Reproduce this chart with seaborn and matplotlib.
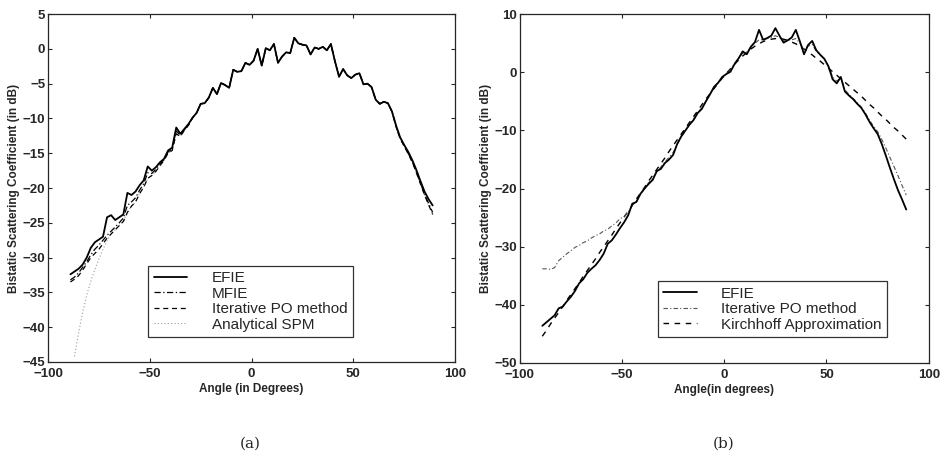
import numpy as np
import pandas as pd
import seaborn as sns
import matplotlib.pyplot as plt

# angle grid (degrees)
angles = np.arange(-89, 90, 2)

# ---- panel (a) ----
efie_a = [-32.4, -32.0, -31.6, -31.0, -30.0, -28.6, -27.8, -27.4, -27.0, -24.2,
          -23.9, -24.6, -24.2, -23.8, -20.7, -21.0, -20.5, -19.6, -18.9, -16.9,
          -17.5, -17.0, -16.3, -15.8, -14.6, -14.2, -11.3, -12.2, -11.5, -10.8,
          -9.9, -9.2, -7.9, -7.8, -7.0, -5.6, -6.5, -4.9, -5.2, -5.6,
          -3.0, -3.3, -3.2, -2.0, -2.3, -1.7, 0.0, -2.4, 0.1, -0.2,
          0.7, -2.0, -1.1, -0.5, -0.6, 1.6, 0.8, 0.6, 0.5, -0.8,
          0.2, 0.0, 0.3, -0.2, 0.7, -1.8, -4.0, -2.9, -3.8, -4.2,
          -3.7, -3.5, -5.1, -5.0, -5.5, -7.3, -7.9, -7.6, -7.8, -9.0,
          -11.0, -12.7, -13.8, -14.8, -16.0, -17.4, -19.0, -20.5, -21.6, -22.5]

mfie_a = [-33.2, -32.8, -32.2, -31.4, -30.6, -29.6, -28.8, -28.2, -27.5, -26.8,
          -26.2, -25.6, -25.0, -24.3, -22.5, -22.0, -21.4, -20.3, -19.4, -17.8,
          -17.9, -17.3, -16.5, -15.9, -14.8, -14.4, -11.8, -12.4, -11.6, -10.9,
          -9.9, -9.2, -7.9, -7.8, -7.0, -5.6, -6.5, -4.9, -5.2, -5.6,
          -3.0, -3.3, -3.2, -2.0, -2.3, -1.7, 0.0, -2.4, 0.1, -0.2,
          0.7, -2.0, -1.1, -0.5, -0.6, 1.6, 0.8, 0.6, 0.5, -0.8,
          0.2, 0.0, 0.3, -0.2, 0.7, -1.8, -4.0, -2.9, -3.8, -4.2,
          -3.7, -3.5, -5.1, -5.0, -5.5, -7.3, -7.9, -7.6, -7.8, -9.0,
          -11.1, -12.8, -13.9, -15.0, -16.2, -17.6, -19.3, -20.8, -22.2, -23.5]

ipo_a = [-33.5, -33.1, -32.6, -31.8, -30.9, -30.0, -29.4, -28.8, -28.0, -27.2,
         -26.6, -26.0, -25.4, -24.8, -23.5, -22.6, -22.0, -20.8, -19.9, -18.6,
         -18.2, -17.6, -16.8, -16.0, -15.0, -14.6, -12.2, -12.6, -11.7, -11.0,
         -9.9, -9.2, -7.9, -7.8, -7.0, -5.6, -6.5, -4.9, -5.2, -5.6,
         -3.0, -3.3, -3.2, -2.0, -2.3, -1.7, 0.0, -2.4, 0.1, -0.2,
         0.7, -2.0, -1.1, -0.5, -0.6, 1.6, 0.8, 0.6, 0.5, -0.8,
         0.2, 0.0, 0.3, -0.2, 0.7, -1.8, -4.0, -2.9, -3.8, -4.2,
         -3.7, -3.5, -5.1, -5.0, -5.5, -7.3, -7.9, -7.6, -7.8, -9.0,
         -11.2, -12.9, -14.0, -15.1, -16.3, -17.8, -19.4, -21.0, -22.4, -23.8]

spm_a = [np.nan, -44.2, -40.8, -37.9, -35.4, -33.4, -31.7, -30.2, -28.8, -27.6,
         -26.6, -26.0, -25.4, -24.8, -23.5, -22.6, -22.0, -20.8, -19.9, -18.6,
         -18.2, -17.6, -16.8, -16.0, -15.0, -14.6, -12.2, -12.6, -11.7, -11.0,
         -9.9, -9.2, -7.9, -7.8, -7.0, -5.6, -6.5, -4.9, -5.2, -5.6,
         -3.0, -3.3, -3.2, -2.0, -2.3, -1.7, 0.0, -2.4, 0.1, -0.2,
         0.7, -2.0, -1.1, -0.5, -0.6, 1.6, 0.8, 0.6, 0.5, -0.8,
         0.2, 0.0, 0.3, -0.2, 0.7, -1.8, -4.0, -2.9, -3.8, -4.2,
         -3.7, -3.5, -5.1, -5.0, -5.5, -7.3, -7.9, -7.6, -7.8, -9.0,
         -11.2, -12.9, -14.0, -15.1, -16.3, -17.8, -19.4, -21.0, -22.4, -23.8]

# ---- panel (b) ----
efie_b = [-43.6, -43.0, -42.4, -41.8, -40.6, -40.3, -39.4, -38.6, -37.6, -36.3,
          -35.6, -34.5, -33.8, -33.2, -32.3, -31.2, -29.5, -28.9, -27.9, -26.8,
          -25.8, -24.6, -22.6, -22.3, -20.9, -20.0, -19.2, -18.5, -17.0, -16.6,
          -15.6, -15.0, -14.2, -12.3, -11.0, -10.0, -9.0, -8.2, -7.0, -6.3,
          -5.0, -3.8, -2.5, -1.8, -0.8, -0.3, 0.1, 1.4, 2.4, 3.6,
          3.1, 4.4, 5.2, 7.3, 5.6, 5.9, 6.3, 7.6, 6.3, 5.1,
          5.5, 6.0, 7.3, 5.3, 3.1, 4.7, 5.4, 3.8, 3.0, 2.3,
          1.0, -1.2, -1.9, -0.8, -3.3, -4.0, -4.6, -5.4, -6.1, -7.2,
          -8.5, -9.6, -10.6, -12.3, -14.3, -16.4, -18.4, -20.3, -21.9, -23.6]

ipo_b = [-33.8, -33.8, -33.9, -33.6, -32.4, -31.8, -31.2, -30.7, -30.1, -29.8,
         -29.3, -29.0, -28.5, -28.1, -27.8, -27.3, -27.0, -26.4, -25.9, -25.2,
         -24.8, -24.0, -22.9, -22.3, -21.0, -20.0, -19.0, -18.2, -17.1, -16.3,
         -15.4, -14.6, -13.8, -12.4, -11.1, -10.0, -9.0, -8.0, -7.0, -6.1,
         -5.0, -3.8, -2.6, -1.8, -0.9, -0.2, 0.4, 1.5, 2.4, 3.3,
         3.5, 4.3, 5.0, 5.6, 5.6, 5.8, 6.0, 6.3, 6.0, 5.4,
         5.5, 5.6, 5.8, 5.0, 4.0, 4.5, 4.8, 3.6, 3.0, 2.2,
         1.0, -0.8, -1.5, -1.0, -3.0, -3.8, -4.5, -5.2, -6.0, -7.0,
         -8.2, -9.3, -10.2, -11.5, -13.0, -14.6, -16.2, -17.8, -19.5, -21.1]

kirch_b = [-45.4, -44.4, -43.3, -42.3, -41.3, -40.3, -39.2, -38.2, -37.2, -36.2,
           -35.1, -34.1, -33.1, -32.1, -31.0, -30.0, -29.0, -28.0, -26.9, -25.9,
           -24.9, -23.9, -22.9, -21.8, -20.8, -19.8, -18.7, -17.7, -16.7, -15.7,
           -14.7, -13.6, -12.6, -11.6, -10.6, -9.6, -8.6, -7.6, -6.6, -5.6,
           -4.6, -3.7, -2.8, -1.9, -1.0, -0.2, 0.6, 1.4, 2.1, 2.8,
           3.4, 4.0, 4.5, 4.9, 5.3, 5.5, 5.7, 5.8, 5.8, 5.7,
           5.5, 5.2, 4.9, 4.5, 4.0, 3.5, 3.0, 2.4, 1.9, 1.3,
           0.7, 0.1, -0.5, -1.1, -1.7, -2.3, -2.9, -3.5, -4.1, -4.8,
           -5.5, -6.1, -6.8, -7.5, -8.1, -8.8, -9.5, -10.1, -10.8, -11.5]

sns.set_style("ticks")
plt.rcParams['font.family'] = ['Liberation Sans', 'DejaVu Sans']
plt.rcParams['axes.linewidth'] = 0.9

fig = plt.figure(figsize=(9.4, 4.62), dpi=100)
ax1 = fig.add_axes([0.0511, 0.2165, 0.433, 0.753])
ax2 = fig.add_axes([0.553, 0.2143, 0.435, 0.755])

# panel (a): hidden curves first, EFIE on top
sns.lineplot(x=angles, y=spm_a, ax=ax1, color='#9a9a9a', lw=0.8,
             linestyle=(0, (1, 2)), label='Analytical SPM')
sns.lineplot(x=angles, y=ipo_a, ax=ax1, color='k', lw=0.9,
             linestyle=(0, (4, 3)), label='Iterative PO method')
sns.lineplot(x=angles, y=mfie_a, ax=ax1, color='k', lw=0.9,
             linestyle=(0, (5, 2, 1, 2)), label='MFIE')
sns.lineplot(x=angles, y=efie_a, ax=ax1, color='k', lw=1.3, label='EFIE')

# panel (b)
sns.lineplot(x=angles, y=kirch_b, ax=ax2, color='k', lw=1.0,
             linestyle=(0, (4, 4)), label='Kirchhoff Approximation')
sns.lineplot(x=angles, y=ipo_b, ax=ax2, color='#555555', lw=0.8,
             linestyle=(0, (4, 2, 1, 2)), label='Iterative PO method')
sns.lineplot(x=angles, y=efie_b, ax=ax2, color='k', lw=1.3, label='EFIE')

ax1.set_xlim(-100, 100)
ax1.set_ylim(-45, 5)
ax1.set_yticks(np.arange(-45, 6, 5))
ax2.set_xlim(-100, 100)
ax2.set_ylim(-50, 10)
ax2.set_yticks(np.arange(-50, 11, 10))

for ax in (ax1, ax2):
    ax.set_xticks([-100, -50, 0, 50, 100])
    ax.tick_params(direction='in', top=True, right=True, length=3,
                   labelsize=9.5, pad=2)
    ax.tick_params(axis='x', pad=4.5)
    for t in ax.get_xticklabels() + ax.get_yticklabels():
        t.set_fontweight('bold')
    ax.set_ylabel('Bistatic Scattering Coefficient (in dB)', fontsize=8.5,
                  fontweight='bold', labelpad=2)
ax1.set_xlabel('Angle (in Degrees)', fontsize=8.5, fontweight='bold',
               labelpad=2)
ax2.set_xlabel('Angle(in degrees)', fontsize=8.5, fontweight='bold',
               labelpad=2)

h, l = ax1.get_legend_handles_labels()
order = [3, 2, 1, 0]
leg1 = ax1.legend([h[i] for i in order], [l[i] for i in order],
                  loc='lower left', bbox_to_anchor=(0.246, 0.072),
                  borderaxespad=0, fontsize=11, frameon=True, fancybox=False,
                  edgecolor='k', handlelength=2.2, handletextpad=1.6,
                  labelspacing=0.1, borderpad=0.35)
leg1.get_frame().set_linewidth(0.9)

h, l = ax2.get_legend_handles_labels()
order = [2, 1, 0]
leg2 = ax2.legend([h[i] for i in order], [l[i] for i in order],
                  loc='lower left', bbox_to_anchor=(0.337, 0.0745),
                  borderaxespad=0, fontsize=11, frameon=True, fancybox=False,
                  edgecolor='k', handlelength=2.2, handletextpad=1.6,
                  labelspacing=0.1, borderpad=0.35)
leg2.get_frame().set_linewidth(0.9)

fig.text(0.266, 0.03, '(a)', family='DejaVu Serif', fontsize=11, ha='center')
fig.text(0.770, 0.03, '(b)', family='DejaVu Serif', fontsize=11, ha='center')

fig.savefig('out.png', dpi=100, facecolor='white')
